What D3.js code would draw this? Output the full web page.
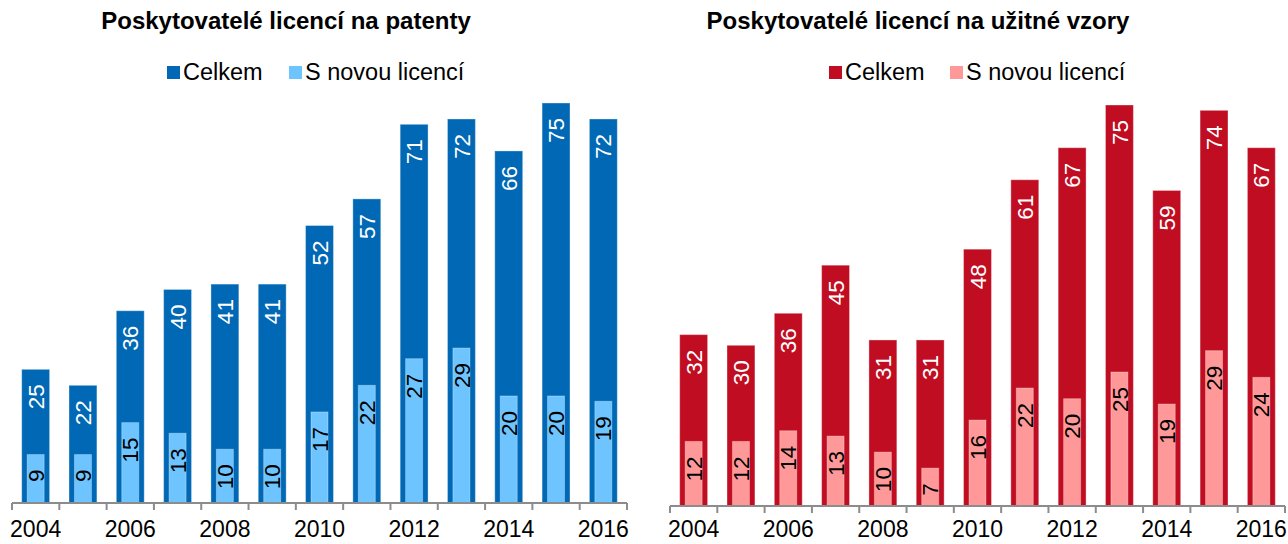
<!DOCTYPE html>
<html><head><meta charset="utf-8">
<script src="https://cdn.jsdelivr.net/npm/d3@7"></script>
<style>html,body{margin:0;padding:0;background:#fff;}svg{display:block;font-family:"Liberation Sans",Arial,sans-serif;}</style>
</head><body>
<svg id="c" width="1288" height="544"></svg>
<script>
const years = [2004,2005,2006,2007,2008,2009,2010,2011,2012,2013,2014,2015,2016];
const yearLabels = ["2004","","2006","","2008","","2010","","2012","","2014","","2016"];
const patentTotal = [25,22,36,40,41,41,52,57,71,72,66,75,72];
const patentNew   = [9,9,15,13,10,10,17,22,27,29,20,20,19];
const modelTotal  = [32,30,36,45,31,31,48,61,67,75,59,74,67];
const modelNew    = [12,12,14,13,10,7,16,22,20,25,19,29,24];
const seriesNames = ["Celkem","S novou licencí"];
const titles = ["Poskytovatelé licencí na patenty","Poskytovatelé licencí na užitné vzory"];

const svg = d3.select("#c");

const panels = [
  {title:titles[0], total:patentTotal, nw:patentNew, x0:12, x1:627, base:503, top75:103,
   c1:"#0068B4", c2:"#6EC4FF", titleX:286, legX:[167,289]},
  {title:titles[1], total:modelTotal, nw:modelNew, x0:670, x1:1285, base:506, top75:105,
   c1:"#C00D22", c2:"#FF9999", titleX:918, legX:[829,950]}
];

panels.forEach(p=>{
  const g = svg.append("g");
  const x = d3.scaleBand().domain(years).range([p.x0,p.x1]).padding(0);
  const y = d3.scaleLinear().domain([0,75]).range([p.base-0.5,p.top75]);
  const bw = x.bandwidth();
  const w1 = bw*0.59, w2 = bw*0.36;

  // title
  g.append("text").attr("x",p.titleX).attr("y",29).attr("text-anchor","middle")
    .attr("font-weight","bold").attr("font-size",24).attr("fill","#000").text(p.title);

  // legend
  [p.c1,p.c2].forEach((c,i)=>{
    g.append("rect").attr("x",p.legX[i]).attr("y",66).attr("width",13).attr("height",13).attr("fill",c);
    g.append("text").attr("x",p.legX[i]+16).attr("y",80).attr("font-size",23.5).attr("fill","#000").text(seriesNames[i]);
  });

  // outer bars
  g.selectAll(".b1").data(years).join("rect")
    .attr("x",d=>x(d)+bw/2-w1/2).attr("width",w1)
    .attr("y",(d,i)=>y(p.total[i])).attr("height",(d,i)=>y(0)-y(p.total[i]))
    .attr("fill",p.c1).attr("stroke","#ffffff").attr("stroke-opacity",0.35).attr("stroke-width",1);
  // inner bars
  g.selectAll(".b2").data(years).join("rect")
    .attr("x",d=>x(d)+bw/2-w2/2).attr("width",w2)
    .attr("y",(d,i)=>y(p.nw[i])).attr("height",(d,i)=>y(0)-y(p.nw[i]))
    .attr("fill",p.c2).attr("stroke","#ffffff").attr("stroke-opacity",0.3).attr("stroke-width",1);

  // labels
  const lab = (vals,col)=>{
    g.selectAll(null).data(years).join("text")
      .attr("transform",(d,i)=>`translate(${x(d)+bw/2},${y(vals[i])+15}) rotate(-90)`)
      .attr("text-anchor","end").attr("dy","0.36em").attr("font-size",22.5).attr("fill",col)
      .text((d,i)=>vals[i]);
  };
  lab(p.total,"#fff");
  lab(p.nw,"#000");

  // axis
  const ax = g.append("g");
  ax.append("line").attr("x1",p.x0).attr("x2",p.x1).attr("y1",p.base).attr("y2",p.base)
    .attr("stroke","#8c8c8c").attr("stroke-width",2.2);
  const ticks = years.map(d=>x(d)).concat([p.x1]);
  ax.selectAll("line.t").data(ticks).join("line").attr("class","t")
    .attr("x1",d=>d).attr("x2",d=>d).attr("y1",p.base).attr("y2",p.base+7)
    .attr("stroke","#8c8c8c").attr("stroke-width",2);
  ax.selectAll("text").data(years).join("text")
    .attr("x",d=>x(d)+bw/2).attr("y",537).attr("text-anchor","middle")
    .attr("font-size",23).attr("fill","#000").text((d,i)=>yearLabels[i]);
});
</script>
</body></html>
